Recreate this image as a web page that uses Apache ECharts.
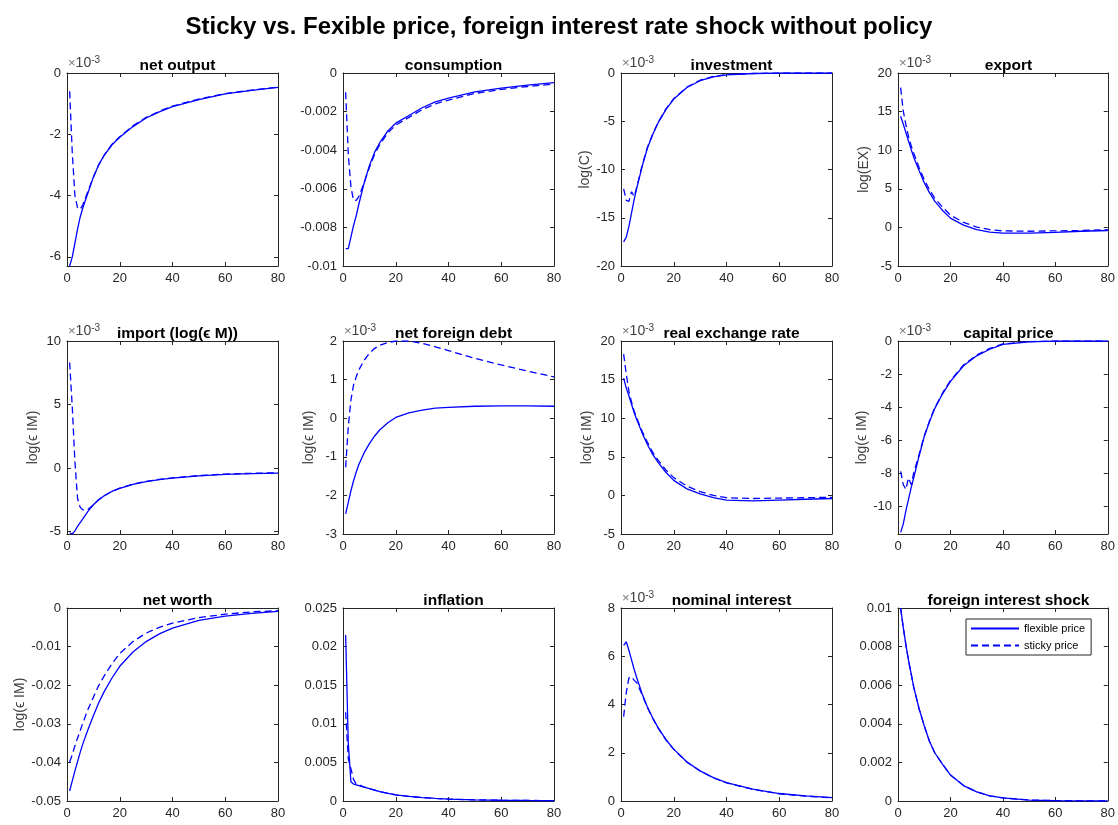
<!DOCTYPE html>
<html>
<head>
<meta charset="utf-8">
<script src="https://cdn.jsdelivr.net/npm/echarts@6/dist/echarts.min.js"></script>
<style>
  html, body { margin: 0; padding: 0; background: #fff; }
  #chart { width: 1118px; height: 825px; }
</style>
</head>
<body>
<div id="chart"></div>
<script>
// periods shared by every panel
const periods = [1, 2, 3, 4, 5, 6, 8, 10, 12, 14, 17, 20, 25, 30, 35, 40, 50, 60, 70, 80];

// panel values (x10^-3 panels are stored as displayed)
const netOutputFlex   = [-6.3, -6.0, -5.55, -5.1, -4.7, -4.4, -3.9, -3.4, -3.0, -2.7, -2.35, -2.1, -1.75, -1.47, -1.27, -1.1, -0.87, -0.68, -0.57, -0.47];
const netOutputSticky = [-0.6, -2.6, -4.0, -4.4, -4.45, -4.3, -3.85, -3.4, -3.0, -2.7, -2.33, -2.08, -1.72, -1.45, -1.25, -1.08, -0.85, -0.67, -0.56, -0.46];

const consFlex   = [-0.0091, -0.0091, -0.0085, -0.0079, -0.0074, -0.0068, -0.0057, -0.0048, -0.0041, -0.0036, -0.0030, -0.0026, -0.0022, -0.0018, -0.0015, -0.0013, -0.00098, -0.00078, -0.00063, -0.0005];
const consSticky = [-0.001, -0.0042, -0.0059, -0.0066, -0.0066, -0.0064, -0.0057, -0.0049, -0.0042, -0.0037, -0.0031, -0.0027, -0.0023, -0.0019, -0.0016, -0.0014, -0.00106, -0.00085, -0.0007, -0.00057];

const invFlex   = [-17.5, -17.0, -15.9, -14.5, -13.1, -11.9, -9.7, -7.8, -6.4, -5.2, -3.8, -2.7, -1.5, -0.8, -0.4, -0.2, -0.05, 0, 0, 0];
const invSticky = [-12.0, -13.2, -13.3, -12.3, -12.8, -11.8, -9.6, -7.7, -6.35, -5.15, -3.75, -2.65, -1.45, -0.75, -0.35, -0.15, -0.05, 0, 0, 0];

const exportFlex   = [14.4, 13.4, 12.3, 11.2, 10.1, 9.1, 7.4, 5.8, 4.5, 3.4, 2.2, 1.2, 0.3, -0.3, -0.6, -0.75, -0.75, -0.65, -0.5, -0.4];
const exportSticky = [18.1, 15.1, 13.3, 11.8, 10.6, 9.6, 7.8, 6.2, 4.9, 3.8, 2.6, 1.6, 0.65, 0.05, -0.3, -0.45, -0.5, -0.45, -0.4, -0.3];

const importFlex   = [-5.1, -5.2, -4.95, -4.6, -4.3, -4.0, -3.4, -2.9, -2.5, -2.2, -1.85, -1.6, -1.3, -1.07, -0.92, -0.8, -0.62, -0.5, -0.44, -0.4];
const importSticky = [8.3, 4.8, 0.5, -2.4, -3.1, -3.3, -3.25, -2.9, -2.5, -2.2, -1.85, -1.58, -1.28, -1.05, -0.9, -0.78, -0.6, -0.48, -0.42, -0.38];

const debtFlex   = [-2.48, -2.18, -1.88, -1.62, -1.4, -1.2, -0.9, -0.66, -0.46, -0.3, -0.12, 0.02, 0.14, 0.21, 0.26, 0.28, 0.31, 0.32, 0.32, 0.31];
const debtSticky = [-1.27, -0.22, 0.47, 0.86, 1.07, 1.25, 1.5, 1.68, 1.81, 1.89, 1.96, 2.0, 2.0, 1.94, 1.85, 1.75, 1.55, 1.38, 1.22, 1.07];

const rerFlex   = [15.2, 13.9, 12.9, 11.8, 10.7, 9.8, 8.1, 6.6, 5.3, 4.3, 3.0, 1.95, 0.85, 0.2, -0.3, -0.6, -0.7, -0.6, -0.5, -0.4];
const rerSticky = [18.3, 15.7, 13.5, 12.1, 10.9, 10.0, 8.3, 6.9, 5.6, 4.6, 3.3, 2.3, 1.2, 0.5, 0.0, -0.3, -0.4, -0.35, -0.3, -0.25];

const capFlex   = [-11.6, -11.1, -10.3, -9.6, -8.9, -8.3, -7.0, -5.8, -4.9, -4.1, -3.2, -2.45, -1.5, -0.9, -0.5, -0.2, -0.05, 0, 0, 0];
const capSticky = [-7.9, -8.7, -9.0, -8.3, -8.7, -8.0, -6.9, -5.75, -4.85, -4.05, -3.15, -2.4, -1.45, -0.85, -0.45, -0.18, -0.04, 0, 0, 0];

const worthFlex   = [-0.0474, -0.0448, -0.0422, -0.0398, -0.0374, -0.0352, -0.0314, -0.0279, -0.0246, -0.0218, -0.0182, -0.0151, -0.0114, -0.0087, -0.0067, -0.0052, -0.0032, -0.0021, -0.0014, -0.0009];
const worthSticky = [-0.0399, -0.038, -0.0357, -0.0337, -0.0318, -0.0298, -0.0262, -0.0231, -0.0201, -0.0177, -0.0145, -0.0118, -0.0087, -0.0065, -0.005, -0.0039, -0.0025, -0.0016, -0.001, -0.0007];

const inflFlex   = [0.0215, 0.0075, 0.0025, 0.0022, 0.0021, 0.002, 0.0018, 0.0016, 0.0014, 0.0012, 0.001, 0.0008, 0.0006, 0.00045, 0.00033, 0.00025, 0.00015, 0.0001, 0.00007, 0.00005];
const inflSticky = [0.0115, 0.0055, 0.0042, 0.0028, 0.0022, 0.0021, 0.0018, 0.0016, 0.0014, 0.0012, 0.001, 0.0008, 0.0006, 0.00045, 0.00033, 0.00025, 0.00015, 0.0001, 0.00007, 0.00005];

const nomFlex   = [6.45, 6.6, 6.25, 5.85, 5.45, 5.1, 4.45, 3.9, 3.45, 3.05, 2.55, 2.15, 1.62, 1.25, 0.97, 0.76, 0.49, 0.31, 0.21, 0.14];
const nomSticky = [3.5, 4.5, 5.1, 5.15, 5.0, 4.9, 4.4, 3.88, 3.43, 3.03, 2.54, 2.14, 1.61, 1.24, 0.96, 0.75, 0.48, 0.3, 0.2, 0.13];

const shockFlex   = [0.01, 0.009, 0.0081, 0.0073, 0.0066, 0.0059, 0.0048, 0.0039, 0.0031, 0.0025, 0.0019, 0.00135, 0.0008, 0.00047, 0.00027, 0.00016, 0.00005, 0.00002, 0.00001, 0];
const shockSticky = [0.01, 0.009, 0.0081, 0.0073, 0.0066, 0.0059, 0.0048, 0.0039, 0.0031, 0.0025, 0.0019, 0.00135, 0.0008, 0.00047, 0.00027, 0.00016, 0.00005, 0.00002, 0.00001, 0];

// titles, axis names, limits and ticks
const panelTitles = ['net output', 'consumption', 'investment', 'export',
  'import (log(\u03f5 M))', 'net foreign debt', 'real exchange rate', 'capital price',
  'net worth', 'inflation', 'nominal interest', 'foreign interest shock'];
const yNames = ['', '', 'log(C)', 'log(EX)',
  'log(\u03f5 IM)', 'log(\u03f5 IM)', 'log(\u03f5 IM)', 'log(\u03f5 IM)',
  'log(\u03f5 IM)', '', '', ''];
const hasExp = [true, false, true, true, true, true, true, true, false, false, true, false];
const yMin = [-6.3, -0.01, -20, -5, -5.2, -3, -5, -11.7, -0.05, 0, 0, 0];
const yMax = [0, 0, 0, 20, 10, 2, 20, 0, 0, 0.025, 8, 0.01];
const yTicks = [
  [-6, -4, -2, 0],
  [-0.01, -0.008, -0.006, -0.004, -0.002, 0],
  [-20, -15, -10, -5, 0],
  [-5, 0, 5, 10, 15, 20],
  [-5, 0, 5, 10],
  [-3, -2, -1, 0, 1, 2],
  [-5, 0, 5, 10, 15, 20],
  [-10, -8, -6, -4, -2, 0],
  [-0.05, -0.04, -0.03, -0.02, -0.01, 0],
  [0, 0.005, 0.01, 0.015, 0.02, 0.025],
  [0, 2, 4, 6, 8],
  [0, 0.002, 0.004, 0.006, 0.008, 0.01]
];

const flexSeries = [netOutputFlex, consFlex, invFlex, exportFlex, importFlex, debtFlex, rerFlex, capFlex, worthFlex, inflFlex, nomFlex, shockFlex];
const stickySeries = [netOutputSticky, consSticky, invSticky, exportSticky, importSticky, debtSticky, rerSticky, capSticky, worthSticky, inflSticky, nomSticky, shockSticky];

// layout
const colLeft = [67, 343, 621, 898];
const rowTop = [73, 341, 608];
const boxW = 211, boxH = 193;
const font = 'Liberation Sans, Arial, sans-serif';
const axisColor = '#262626';
const lineBlue = '#0000ff';

const chart = echarts.init(document.getElementById('chart'));

const grids = [], xAxes = [], yAxes = [], series = [], titles = [], graphics = [];

titles.push({
  text: 'Sticky vs. Fexible price, foreign interest rate shock without policy',
  left: 'center', top: 10,
  textStyle: { fontSize: 24, fontWeight: 'bold', color: '#000', fontFamily: font }
});

for (let i = 0; i < 12; i++) {
  const left = colLeft[i % 4], top = rowTop[Math.floor(i / 4)];
  grids.push({ left: left, top: top, width: boxW, height: boxH, containLabel: false });

  ['bottom', 'top'].forEach(function (pos) {
    xAxes.push({
      type: 'value', gridIndex: i, position: pos, min: 0, max: 80, interval: 20,
      axisLine: { show: true, onZero: false, lineStyle: { color: axisColor, width: 1 } },
      axisTick: { show: true, inside: true, length: 4, lineStyle: { color: axisColor } },
      axisLabel: { show: pos === 'bottom', margin: 6, fontSize: 13, color: axisColor, fontFamily: font },
      splitLine: { show: false }
    });
  });

  ['left', 'right'].forEach(function (pos) {
    yAxes.push({
      type: 'value', gridIndex: i, position: pos, min: yMin[i], max: yMax[i],
      name: pos === 'left' ? yNames[i] : '',
      nameLocation: 'middle', nameRotate: 90,
      nameGap: i === 8 ? 40 : 27,
      nameTextStyle: { fontSize: 14, color: '#404040', fontFamily: font },
      axisLine: { show: true, onZero: false, lineStyle: { color: axisColor, width: 1 } },
      axisTick: { show: true, inside: true, length: 4, customValues: yTicks[i], lineStyle: { color: axisColor } },
      axisLabel: { show: pos === 'left', customValues: yTicks[i], margin: 6, fontSize: 13, color: axisColor, fontFamily: font },
      splitLine: { show: false }
    });
  });

  titles.push({
    text: panelTitles[i],
    left: left + boxW / 2, top: top - 20, textAlign: 'center',
    textStyle: { fontSize: 15.5, fontWeight: 'bold', color: '#000', fontFamily: font }
  });

  if (hasExp[i]) {
    graphics.push({
      type: 'text', left: left + 1, top: top - 18, z: 10,
      style: {
        text: '{a|\u00d7}{b|10}{c|-3}',
        rich: {
          a: { fontSize: 13, fill: '#777', fontFamily: font },
          b: { fontSize: 14, fill: '#404040', fontFamily: font },
          c: { fontSize: 10, fill: '#404040', fontFamily: font, verticalAlign: 'top', padding: [0, 0, 7, 0] }
        }
      }
    });
  }

  series.push({
    name: 'flexible price', type: 'line', xAxisIndex: 2 * i, yAxisIndex: 2 * i,
    data: periods.map(function (p, k) { return [p, flexSeries[i][k]]; }),
    showSymbol: false, symbol: 'none', color: lineBlue,
    lineStyle: { color: lineBlue, width: 1.3, type: 'solid' }, z: 3
  });
  series.push({
    name: 'sticky price', type: 'line', xAxisIndex: 2 * i, yAxisIndex: 2 * i,
    data: periods.map(function (p, k) { return [p, stickySeries[i][k]]; }),
    showSymbol: false, symbol: 'none', color: lineBlue,
    lineStyle: { color: lineBlue, width: 1.3, type: [7, 4] }, z: 3
  });
}

chart.setOption({
  animation: false,
  backgroundColor: '#fff',
  title: titles,
  grid: grids,
  xAxis: xAxes,
  yAxis: yAxes,
  series: series,
  graphic: graphics,
  legend: {
    data: ['flexible price', 'sticky price'],
    orient: 'vertical', left: 966, top: 619,
    itemWidth: 48, itemHeight: 12, itemGap: 6,
    padding: [4, 6, 4, 4],
    itemStyle: { opacity: 0, borderWidth: 0 },
    backgroundColor: '#fff', borderColor: '#262626', borderWidth: 1,
    textStyle: { fontSize: 11, color: '#000', fontFamily: font }
  }
});
</script>
</body>
</html>
